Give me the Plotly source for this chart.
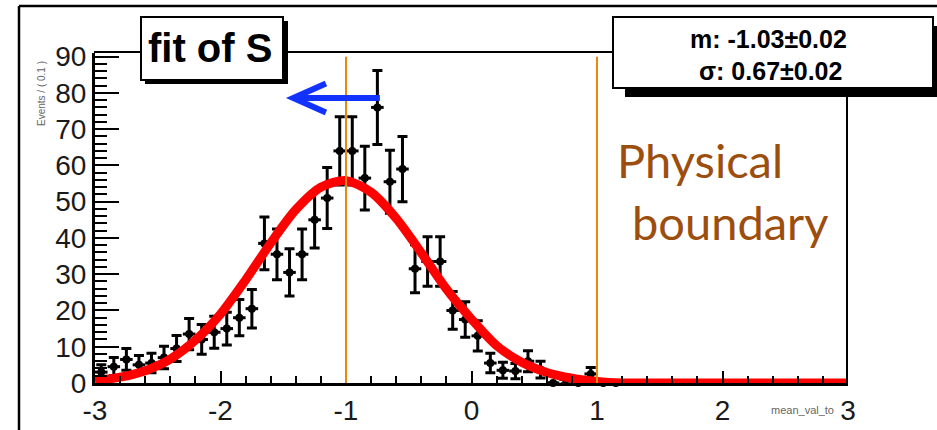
import plotly.graph_objects as go

# ---------------- data ----------------
bin_centers = [-2.95, -2.85, -2.75, -2.65, -2.55, -2.45, -2.35, -2.25, -2.15, -2.05,
               -1.95, -1.85, -1.75, -1.65, -1.55, -1.45, -1.35, -1.25, -1.15, -1.05,
               -0.95, -0.85, -0.75, -0.65, -0.55, -0.45, -0.35, -0.25, -0.15, -0.05,
               0.05, 0.15, 0.25, 0.35, 0.45, 0.55, 0.65, 0.75, 0.85, 0.95,
               1.05, 1.15]
counts = [3.0, 4.5, 6.5, 5.0, 5.5, 7.0, 9.5, 13.5, 12.0, 14.0,
          15.0, 18.0, 20.5, 38.5, 35.5, 30.5, 35.5, 45.0, 51.0, 64.0,
          64.0, 56.5, 76.0, 55.5, 59.0, 31.5, 33.5, 33.5, 20.0, 17.5,
          13.0, 5.5, 3.5, 3.3, 6.0, 3.7, 0.0, 1.0, 0.0, 2.5,
          0.0, 0.0]
count_errors = [2.0, 2.5, 3.0, 2.6, 2.7, 3.1, 3.6, 4.3, 4.1, 4.4,
                4.5, 5.0, 5.3, 7.3, 7.0, 6.5, 7.0, 7.8, 8.4, 9.4,
                9.4, 8.8, 10.2, 8.7, 9.0, 6.6, 6.8, 6.8, 5.2, 4.9,
                4.2, 2.7, 2.2, 2.1, 2.9, 2.3, 0.0, 1.2, 0.0, 1.8,
                0.0, 0.0]
bin_half_width = 0.05

fit_x = [-3.0, -2.8, -2.6, -2.4, -2.2, -2.0, -1.8, -1.6, -1.4, -1.2, -1.0,
         -0.8, -0.6, -0.4, -0.2, 0.0, 0.2, 0.4, 0.6, 0.8, 1.0,
         1.2, 1.4, 1.6, 1.8, 2.0, 2.2, 2.4, 2.6, 2.8, 3.0]
fit_y = [0.7, 1.6, 3.4, 6.6, 11.8, 19.0, 28.4, 38.6, 47.8, 54.0, 55.8,
         52.6, 45.4, 35.9, 25.9, 17.6, 10.3, 5.7, 2.9, 1.3, 0.4,
         0.0, 0.0, 0.0, 0.0, 0.0, 0.0, 0.0, 0.0, 0.0, 0.0]

x_tick_values = [-3, -2, -1, 0, 1, 2, 3]
x_tick_labels = ["-3", "-2", "-1", "0", "1", "2", "3"]
y_tick_values = [0, 10, 20, 30, 40, 50, 60, 70, 80, 90]
y_tick_labels = ["0", "10", "20", "30", "40", "50", "60", "70", "80", "90"]

boundary_lines_x = [-1.0, 1.0]
boundary_line_top = 90.0
arrow_tail = (-0.73, 78.6)
arrow_tip = (-1.42, 78.6)
arrow_arm_x = -1.16
arrow_arm_dy = 4.0

title_text = "fit of S"
stats_lines = ["m: -1.03±0.02", "σ: 0.67±0.02"]
boundary_text = ["Physical", "boundary"]
y_title = "Events / ( 0.1 )"
x_title = "mean_val_to"

# ---------------- layout helpers (pixels -> paper) ----------------
W, H = 937, 430


def px(x):
    return x / W


def py(y):
    return 1 - y / H


FONT = "Liberation Sans, Arial, Helvetica, sans-serif"

fig = go.Figure()

fig.add_trace(go.Scatter(
    x=bin_centers, y=counts, mode="markers",
    marker=dict(color="black", size=8, symbol="circle"),
    error_y=dict(type="data", array=count_errors, color="black", thickness=3, width=5),
    error_x=dict(type="constant", value=bin_half_width, color="black", thickness=3, width=0),
    cliponaxis=False, showlegend=False, hoverinfo="skip",
))

fig.add_trace(go.Scatter(
    x=fit_x, y=fit_y, mode="lines",
    line=dict(color="#ff0000", width=9, shape="spline", smoothing=0.8),
    cliponaxis=False, showlegend=False, hoverinfo="skip",
))

shapes = []
# plot frame (top and right), thin
shapes.append(dict(type="line", xref="paper", yref="paper", x0=px(94), x1=px(848), y0=py(52), y1=py(52),
                   line=dict(color="black", width=2), layer="above"))
shapes.append(dict(type="line", xref="paper", yref="paper", x0=px(847), x1=px(847), y0=py(52), y1=py(383),
                   line=dict(color="black", width=2), layer="above"))
# outer canvas frame
shapes.append(dict(type="line", xref="paper", yref="paper", x0=px(19), x1=px(19), y0=py(6), y1=0,
                   line=dict(color="black", width=2.5), layer="above"))
shapes.append(dict(type="line", xref="paper", yref="paper", x0=px(19), x1=1, y0=py(6), y1=py(6),
                   line=dict(color="black", width=2.5), layer="above"))
# physical boundary lines
for bx in boundary_lines_x:
    shapes.append(dict(type="line", xref="x", yref="y", x0=bx, x1=bx, y0=0, y1=boundary_line_top,
                       line=dict(color="#e8890c", width=2), layer="above"))
# blue arrow
shapes.append(dict(type="line", xref="x", yref="y", x0=arrow_tail[0], x1=arrow_tip[0],
                   y0=arrow_tail[1], y1=arrow_tip[1], line=dict(color="#1232ff", width=6), layer="above"))
shapes.append(dict(type="path", xref="x", yref="y",
                   path=f"M {arrow_arm_x} {arrow_tip[1] + arrow_arm_dy} L {arrow_tip[0]} {arrow_tip[1]} "
                        f"L {arrow_arm_x} {arrow_tip[1] - arrow_arm_dy}",
                   line=dict(color="#1232ff", width=6), layer="above"))
# title box with shadow
shapes.append(dict(type="rect", xref="paper", yref="paper", x0=px(145), x1=px(288), y0=py(21), y1=py(84),
                   fillcolor="black", line=dict(width=0), layer="above"))
shapes.append(dict(type="rect", xref="paper", yref="paper", x0=px(141), x1=px(283), y0=py(17), y1=py(80),
                   fillcolor="white", line=dict(color="black", width=2), layer="above"))
# stats box with shadow
shapes.append(dict(type="rect", xref="paper", yref="paper", x0=px(625), x1=px(945), y0=py(26), y1=py(97),
                   fillcolor="black", line=dict(width=0), layer="above"))
shapes.append(dict(type="rect", xref="paper", yref="paper", x0=px(613), x1=px(933), y0=py(17), y1=py(88),
                   fillcolor="white", line=dict(color="black", width=2), layer="above"))

annotations = [
    dict(text=f"<b>{title_text}</b>", x=px(210), y=py(48), xref="paper", yref="paper",
         showarrow=False, xanchor="center", yanchor="middle",
         font=dict(family=FONT, size=40, color="black")),
    dict(text=f"<b>{stats_lines[0]}</b>", x=px(768), y=py(39), xref="paper", yref="paper",
         showarrow=False, xanchor="center", yanchor="middle",
         font=dict(family=FONT, size=25, color="black")),
    dict(text=f"<b>{stats_lines[1]}</b>", x=px(770), y=py(71), xref="paper", yref="paper",
         showarrow=False, xanchor="center", yanchor="middle",
         font=dict(family=FONT, size=25, color="black")),
    dict(text=boundary_text[0], x=px(700), y=py(160), xref="paper", yref="paper",
         showarrow=False, xanchor="center", yanchor="middle",
         font=dict(family="Lato, sans-serif", size=47, color="#9c4e0e")),
    dict(text=boundary_text[1], x=px(730), y=py(222), xref="paper", yref="paper",
         showarrow=False, xanchor="center", yanchor="middle",
         font=dict(family="Lato, sans-serif", size=47, color="#9c4e0e")),
    dict(text=y_title, x=px(41), y=py(94), xref="paper", yref="paper", textangle=-90,
         showarrow=False, xanchor="center", yanchor="middle",
         font=dict(family=FONT, size=10, color="#666666")),
    dict(text=x_title, x=px(836), y=py(410), xref="paper", yref="paper",
         showarrow=False, xanchor="right", yanchor="middle",
         font=dict(family=FONT, size=11, color="#666666")),
]

fig.update_layout(
    width=W, height=H, autosize=False,
    margin=dict(l=0, r=0, t=0, b=0, pad=0, autoexpand=False),
    paper_bgcolor="white", plot_bgcolor="white",
    showlegend=False,
    shapes=shapes, annotations=annotations,
    xaxis=dict(
        range=[-3, 3], domain=[px(95), px(848)], anchor="y", automargin=False,
        tickvals=x_tick_values, ticktext=x_tick_labels,
        ticks="inside", ticklen=12, tickwidth=2, tickcolor="black",
        minor=dict(ticks="inside", ticklen=7, tickwidth=2, tickcolor="black", dtick=0.2, showgrid=False),
        showline=True, linewidth=3, linecolor="black",
        showgrid=False, zeroline=False,
        tickfont=dict(family=FONT, size=28, color="#1a1a1a"),
    ),
    yaxis=dict(
        range=[0, 91], domain=[py(383), py(53)], anchor="x", automargin=False,
        tickvals=y_tick_values, ticktext=y_tick_labels,
        ticks="inside", ticklen=24, tickwidth=2, tickcolor="black",
        minor=dict(ticks="inside", ticklen=12, tickwidth=2, tickcolor="black", dtick=2, showgrid=False),
        showline=True, linewidth=3, linecolor="black",
        showgrid=False, zeroline=False,
        tickfont=dict(family=FONT, size=28, color="#1a1a1a"),
    ),
)

fig.write_html("out.html", config={"displayModeBar": False},
               post_script="document.body.style.margin='0px';document.body.style.overflow='hidden';")
